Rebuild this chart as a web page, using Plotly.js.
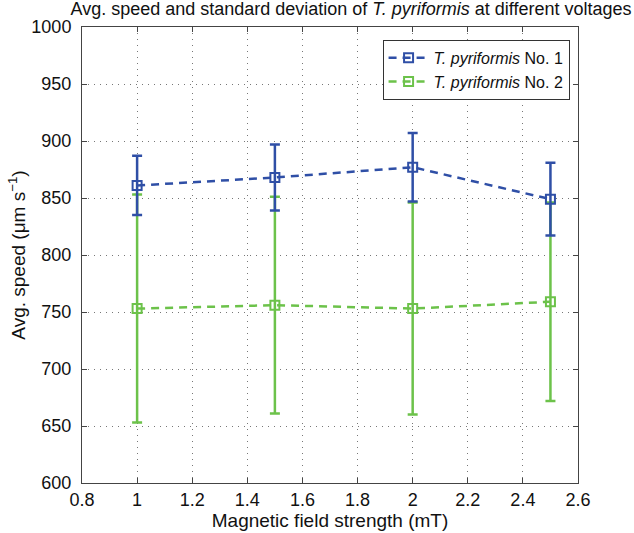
<!DOCTYPE html>
<html>
<head>
<meta charset="utf-8">
<script src="https://cdn.plot.ly/plotly-3.0.1.min.js"></script>
<style>html,body{margin:0;padding:0;background:#fff;}#chart{width:634px;height:533px;}</style>
</head>
<body>
<div id="chart"></div>
<script>
const fieldStrength = [1, 1.5, 2, 2.5];
const speed1 = [861, 868, 877, 849];
const sd1 = [26, 29, 30, 32];
const speed2 = [753, 756, 753, 759];
const sd2 = [100, 95, 93, 87];
const seriesNames = ['<i>T. pyriformis</i> No. 1', '<i>T. pyriformis</i> No. 2'];
const xTicks = [0.8, 1, 1.2, 1.4, 1.6, 1.8, 2, 2.2, 2.4, 2.6];
const yTicks = [600, 650, 700, 750, 800, 850, 900, 950, 1000];

const blue = '#2f4fa6';
const green = '#6cc24a';

function trace(y, sd, name, color) {
  return {
    x: fieldStrength, y: y, name: name, type: 'scatter', mode: 'lines+markers',
    line: {color: color, width: 2.5, dash: '8px,6px'},
    marker: {symbol: 'square-open', size: 9, color: color, line: {width: 2, color: color}},
    error_y: {type: 'data', array: sd, visible: true, color: color, thickness: 2.5, width: 5}
  };
}

const data = [trace(speed2, sd2, seriesNames[1], green), trace(speed1, sd1, seriesNames[0], blue)];

const axisCommon = {
  showline: true, mirror: 'ticks', linecolor: '#444', linewidth: 1,
  ticks: 'inside', ticklen: 5, tickcolor: '#444',
  showgrid: true, gridcolor: '#777', griddash: '1px,5px', gridwidth: 1,
  zeroline: false, tickfont: {size: 18, color: '#111'}
};

const layout = {
  width: 634, height: 533,
  margin: {l: 82, r: 56, t: 27, b: 50},
  paper_bgcolor: '#fff', plot_bgcolor: '#fff',
  font: {family: 'Liberation Sans, Arial, sans-serif', color: '#111'},
  title: {text: 'Avg. speed and standard deviation of <i>T. pyriformis</i> at different voltages',
          font: {size: 18, color: '#111'}, x: 0.5536, xanchor: 'center', y: 0.995, yanchor: 'top'},
  xaxis: Object.assign({}, axisCommon, {
    range: [0.8, 2.6], tickvals: xTicks, ticktext: xTicks.map(String),
    title: {text: 'Magnetic field strength (mT)', font: {size: 19}, standoff: 2}
  }),
  yaxis: Object.assign({}, axisCommon, {
    range: [600, 1000], tickvals: yTicks, ticktext: yTicks.map(String),
    ticklabelstandoff: 6,
    title: {text: 'Avg. speed (μm s<sup>−1</sup>)', font: {size: 19}, standoff: 0}
  }),
  legend: {
    x: 0.983, xanchor: 'right', y: 0.972, yanchor: 'top',
    bgcolor: '#fff', bordercolor: '#333', borderwidth: 1,
    font: {size: 16, color: '#111'}, traceorder: 'reversed', itemwidth: 40,
    tracegroupgap: 0
  },
  showlegend: true
};

Plotly.newPlot('chart', data, layout, {displayModeBar: false, staticPlot: true});
</script>
</body>
</html>
